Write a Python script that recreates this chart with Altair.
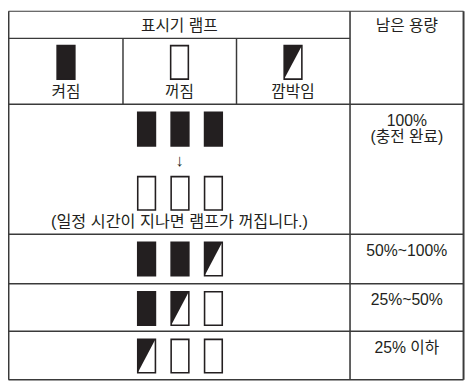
import altair as alt
import pandas as pd

# ---------------- content ----------------
header_lamp = "표시기 램프"
header_capacity = "남은 용량"
state_kinds = ["on", "off", "blink"]
state_labels = ["켜짐", "꺼짐", "깜박임"]
capacity_labels = ["100%\n(충전 완료)", "50%~100%", "25%~50%", "25% 이하"]
row_states = [
    ["on", "on", "on"],
    ["on", "on", "blink"],
    ["on", "blink", "off"],
    ["blink", "off", "off"],
]
after_states = ["off", "off", "off"]
arrow_label = "↓"
note_label = "(일정 시간이 지나면 램프가 꺼집니다.)"

# ---------------- layout (reference pixel grid) ----------------
W, H = 466, 376
X0, X1 = 8.5, 471.5
X_DIV = 356
SUB_X = [125, 240.5]
Y_TOP = 3.0
Y_HEAD = 31
ROW_Y = [99, 233, 284, 333, 383]
LAMP_W, LAMP_H = 18, 34.5
HEAD_LAMP_X = [67, 182.5, 298]
HEAD_LAMP_TOP = 38.5
ROW_LAMP_X = [149, 183, 217]
INK = "#231f20"
LINE = "#3a3a3a"
FONT = "Liberation Sans, Noto Sans CJK KR"

# ---------------- tables ----------------
lines = []
def add_line(x, x2, y, y2, w):
    lines.append(dict(x=x, x2=x2, y=y, y2=y2, w=w))

add_line(X0, X1, Y_TOP, Y_TOP, 1.2)
add_line(X0, X1, ROW_Y[-1], ROW_Y[-1], 1.6)
add_line(X0, X0, Y_TOP, ROW_Y[-1], 2)
add_line(X1, X1, Y_TOP, ROW_Y[-1], 2)
add_line(X_DIV, X_DIV, Y_TOP, ROW_Y[-1], 1.6)
add_line(X0, X_DIV, Y_HEAD, Y_HEAD, 1.5)
for sx in SUB_X:
    add_line(sx, sx, Y_HEAD, ROW_Y[0], 1.5)
for ry in ROW_Y[:-1]:
    add_line(X0, X1, ry, ry, 1.5)
lines_df = pd.DataFrame(lines)

lamps = []
def add_lamp(cx, top, kind):
    lamps.append(dict(x=cx - LAMP_W / 2, x2=cx + LAMP_W / 2, y=top, y2=top + LAMP_H,
                      kind=kind, id=len(lamps)))

for cx, kind in zip(HEAD_LAMP_X, state_kinds):
    add_lamp(cx, HEAD_LAMP_TOP, kind)
for r, states in enumerate(row_states):
    top = ROW_Y[r] + 8.3
    for cx, kind in zip(ROW_LAMP_X, states):
        add_lamp(cx, top, kind)
for cx, kind in zip(ROW_LAMP_X, after_states):
    add_lamp(cx, ROW_Y[0] + 74.5, kind)
lamps_df = pd.DataFrame(lamps)

tri = []
for l in lamps:
    if l["kind"] == "blink":
        tri.append(dict(x=l["x"], y=l["y2"], y2=l["y"], id=l["id"]))
        tri.append(dict(x=l["x2"], y=l["y"], y2=l["y"], id=l["id"]))
tri_df = pd.DataFrame(tri)

texts = []
texts.append(dict(x=(X0 + X_DIV) / 2, y=18.5, t=header_lamp, s=16))
texts.append(dict(x=(X_DIV + X1) / 2, y=18.5, t=header_capacity, s=16))
for cx, lab in zip(HEAD_LAMP_X, state_labels):
    texts.append(dict(x=cx, y=86.7, t=lab, s=16))
for r, lab in enumerate(capacity_labels):
    for k, part in enumerate(lab.split("\n")):
        texts.append(dict(x=(X_DIV + X1) / 2, y=ROW_Y[r] + 17 + 17 * k, t=part, s=16))
texts.append(dict(x=ROW_LAMP_X[1] - 0.5, y=ROW_Y[0] + 58, t=arrow_label, s=17))
texts.append(dict(x=ROW_LAMP_X[1] - 0.5, y=ROW_Y[0] + 121, t=note_label, s=16.5))
text_df = pd.DataFrame(texts)

xs = alt.Scale(domain=[8, 474], nice=False, zero=False)
ys = alt.Scale(domain=[3, 384], nice=False, zero=False, reverse=True)

rules = alt.Chart(lines_df).mark_rule(color=LINE).encode(
    x=alt.X("x:Q", scale=xs, axis=None),
    x2="x2:Q",
    y=alt.Y("y:Q", scale=ys, axis=None),
    y2="y2:Q",
    strokeWidth=alt.StrokeWidth("w:Q", scale=None),
)

rects = alt.Chart(lamps_df).mark_rect(stroke=INK, strokeWidth=1.6).encode(
    x=alt.X("x:Q", scale=xs, axis=None),
    x2="x2:Q",
    y=alt.Y("y:Q", scale=ys, axis=None),
    y2="y2:Q",
    fill=alt.Fill("kind:N", scale=alt.Scale(domain=["on", "off", "blink"],
                                            range=[INK, "#ffffff", "#ffffff"]), legend=None),
)

tris = alt.Chart(tri_df).mark_area(color=INK, orient="vertical").encode(
    x=alt.X("x:Q", scale=xs, axis=None),
    y=alt.Y("y:Q", scale=ys, axis=None),
    y2="y2:Q",
    detail="id:N",
)

labels = alt.Chart(text_df).mark_text(font=FONT, color=INK, baseline="middle",
                                      align="center").encode(
    x=alt.X("x:Q", scale=xs, axis=None),
    y=alt.Y("y:Q", scale=ys, axis=None),
    text="t:N",
    size=alt.Size("s:Q", scale=None, legend=None),
)

chart = alt.layer(rules, rects, tris, labels).properties(
    width=W, height=H, autosize=alt.AutoSizeParams(type="none"), padding=0,
    background="#ffffff",
).configure_view(stroke=None)

chart.save("out.html", embed_options={"renderer": "svg", "actions": False})
